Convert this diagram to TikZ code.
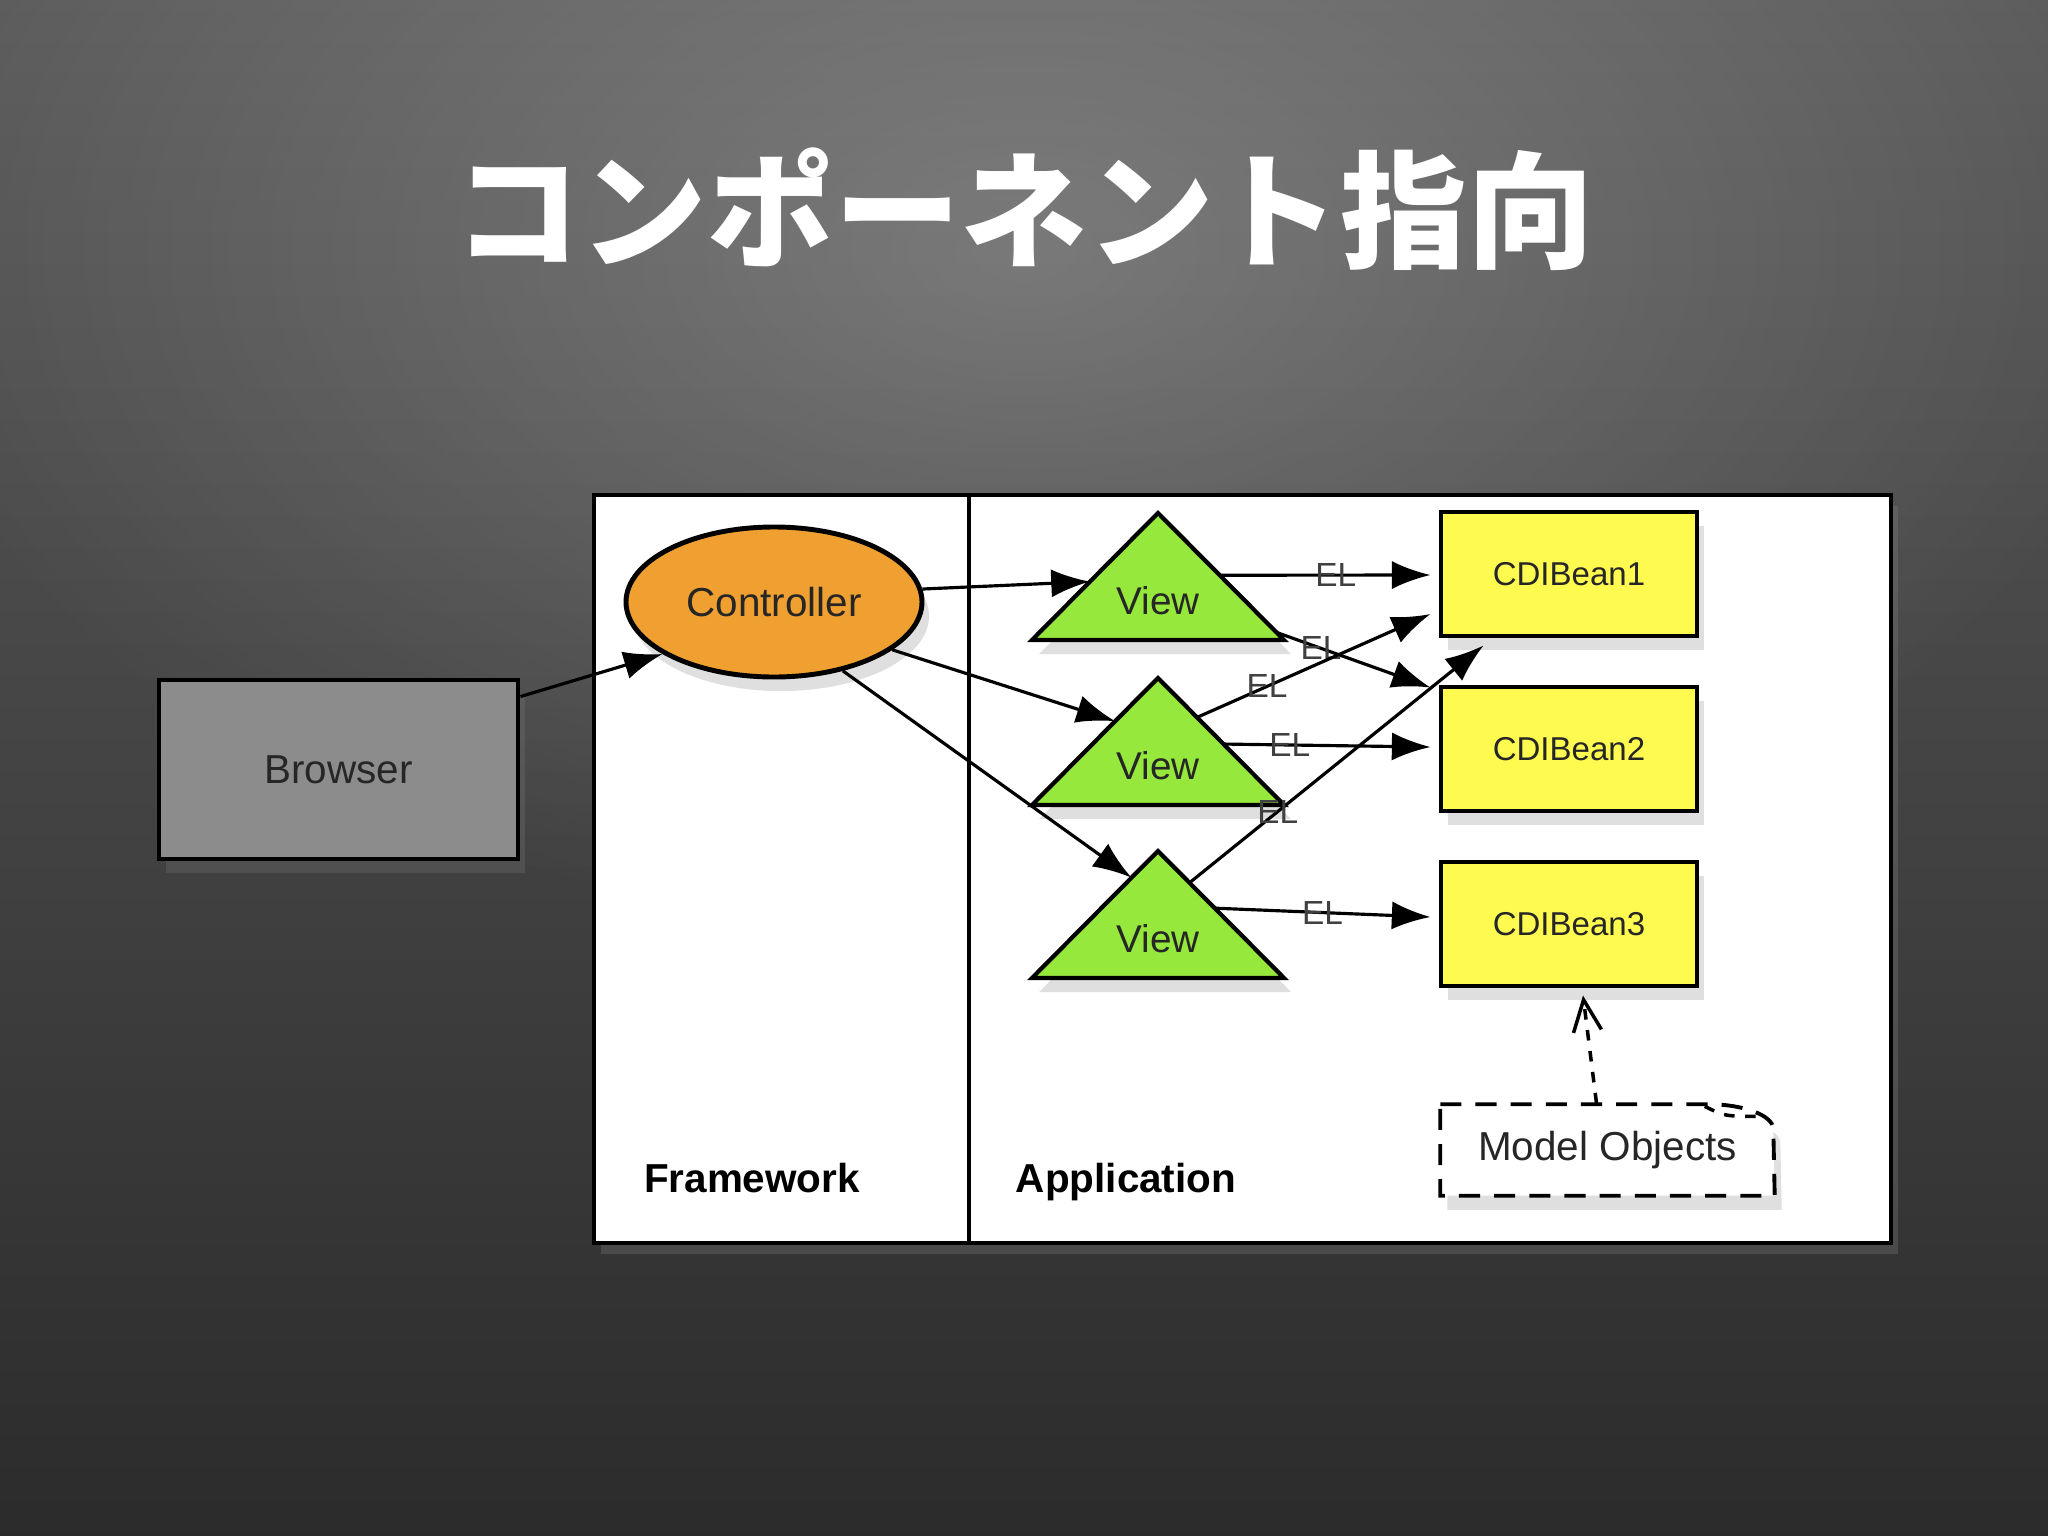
\documentclass[tikz,border=0pt]{standalone}
\usepackage{fontspec}
\setmainfont{Liberation Sans}
\newfontfamily\cjk{Noto Sans CJK JP}
\usetikzlibrary{calc,arrows.meta,shadows,fadings,shapes.geometric}

\definecolor{ctrlorange}{RGB}{240,160,48}
\definecolor{viewgreen}{RGB}{150,232,60}
\definecolor{beanyellow}{RGB}{255,250,80}
\definecolor{browsergray}{RGB}{140,140,140}
\tikzfading[name=glow,inner color=transparent!0,outer color=transparent!100]

\begin{document}
\begin{tikzpicture}[x=0.01cm,y=-0.01cm,
  shd/.style={drop shadow={shadow xshift=2pt,shadow yshift=-4pt,opacity=0.25}},
  box/.style={draw=black,line width=1.4pt,shd},
  lbl/.style={font=\fontsize{11.5pt}{13pt}\selectfont,text=black!85},
  bean/.style={box,fill=beanyellow,minimum width=256*0.01cm,minimum height=124*0.01cm,
    font=\fontsize{9.4pt}{11pt}\selectfont,text=black!85},
  tri/.style={draw=black,line width=1.2pt,fill=viewgreen,shd},
  arr/.style={-{Latex[length=11pt,width=8pt]},line width=0.9pt},
  el/.style={font=\fontsize{9.5pt}{11pt}\selectfont,text=black!75,inner sep=0pt}]

\useasboundingbox (0,0) rectangle (2048,1536);

% background
\shade[top color=black!64,bottom color=black!83] (0,0) rectangle (2048,1536);
\fill[white,opacity=0.22,path fading=glow] (1024,250) ellipse (1150 and 700);

% title
\node[text=white,font=\cjk\bfseries\fontsize{36pt}{42pt}\selectfont] (title) at (1024,209)
  {コンポーネント指向};

% panel
\draw[fill=white,line width=1.2pt,drop shadow={opacity=0.3,shadow xshift=2pt,shadow yshift=-3pt}]
  (594,495) rectangle (1891,1243);
\draw[line width=1.1pt] (969,495) -- (969,1243);
\node[font=\bfseries\fontsize{11.5pt}{13pt}\selectfont,anchor=base] (fw) at (752,1192) {Framework};
\node[font=\bfseries\fontsize{11.5pt}{13pt}\selectfont,anchor=base] (app) at (1126,1192) {Application};

% browser and controller
\node[box,fill=browsergray,minimum width=359*0.01cm,minimum height=179*0.01cm,lbl]
  (browser) at (338.5,769.5) {Browser};
\node[box,ellipse,fill=ctrlorange,minimum width=296*0.01cm,minimum height=150*0.01cm,
  inner sep=0pt,lbl] (ctrl) at (774,602) {Controller};

% views
\foreach \n/\ay in {1/513,2/678,3/851}{
  \coordinate (v\n a) at (1158,\ay);
  \coordinate (v\n l) at (1032,\ay+127);
  \coordinate (v\n r) at (1284,\ay+127);
  \draw[tri] (v\n a) -- (v\n r) -- (v\n l) -- cycle;
  \node[lbl,font=\fontsize{11pt}{13pt}\selectfont] (v\n) at (1158,\ay+88) {View};
}

% beans
\node[bean] (b1) at (1569,574) {CDIBean1};
\node[bean] (b2) at (1569,749) {CDIBean2};
\node[bean] (b3) at (1569,924) {CDIBean3};

% model objects
\node[lbl,minimum width=333*0.01cm,minimum height=90*0.01cm] (mo) at (1607.5,1150) {Model Objects};
\draw[dashed,line width=1.1pt,dash pattern=on 6pt off 4pt,fill=white,shd]
  (mo.north west) -- ++(270,0) .. controls ++(30,0) and ++(0,-15) .. ++(63,25)
  -- (mo.south east) -- (mo.south west) -- cycle;
\node[lbl] at (mo) {Model Objects};
\draw[dashed,line width=1pt] ($(mo.north east)+(-70,2)$) .. controls ++(20,10) .. ($(mo.north east)+(-15,12)$);

% connectors
\draw[arr] ($(browser.north east)+(0,19)$) -- (ctrl.205);
\draw[arr] (ctrl.5) -- ($(v1a)!0.54!(v1l)$);
\draw[arr] (ctrl.-22) -- ($(v2a)!0.34!(v2l)$);
\draw[arr] (ctrl.-45) -- ($(v3a)!0.21!(v3l)$);

\draw[arr] ($(v1a)!0.49!(v1r)$) -- node[el,pos=.55]{EL} ($(b1.west)+(-8,1)$);
\draw[arr] ($(v1a)!0.94!(v1r)$) -- node[el,pos=.29]{EL} ($(b2.north west)+(-8,3)$);
\draw[arr] ($(v2a)!0.31!(v2r)$) -- node[el,pos=.3]{EL} ($(b1.west)+(-8,40)$);
\draw[arr] ($(v2a)!0.52!(v2r)$) -- node[el,pos=.32]{EL} ($(b2.west)+(-8,-2)$);
\draw[arr] ($(v3a)!0.25!(v3r)$) -- node[el,pos=.3]{EL} ($(b1.south west)+(45,7)$);
\draw[arr] ($(v3a)!0.45!(v3r)$) -- node[el,pos=.5]{EL} ($(b3.west)+(-8,-7)$);

\draw[dashed,line width=1pt,-{Straight Barb[length=9pt,width=8pt]}]
  ($(mo.north)+(-11,-1)$) -- ($(b3.south)+(14,7)$);
\end{tikzpicture}
\end{document}
